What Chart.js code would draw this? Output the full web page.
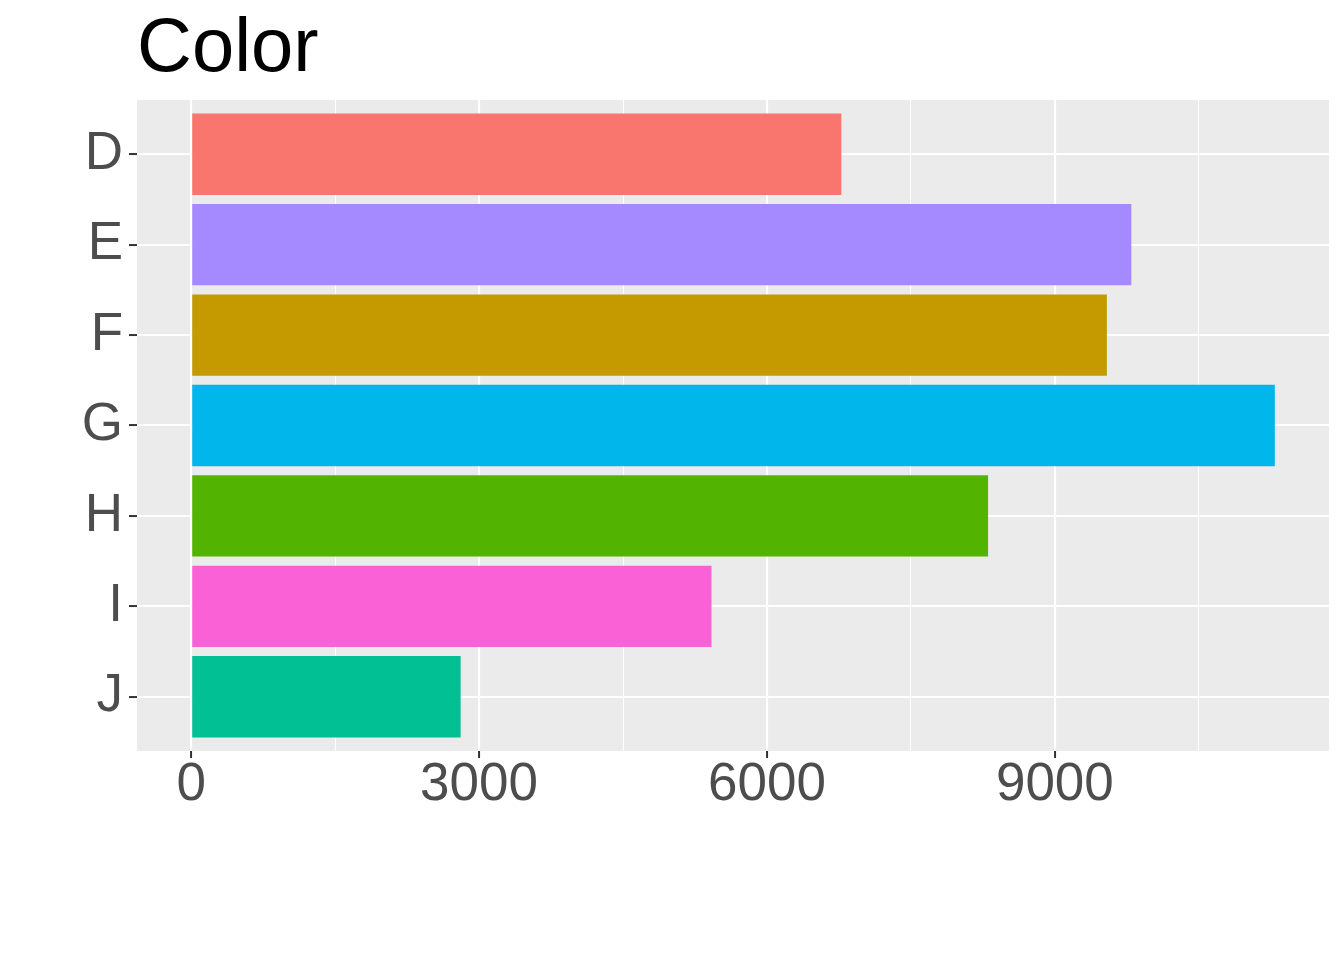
<!DOCTYPE html>
<html>
<head>
<meta charset="utf-8">
<script src="https://cdn.jsdelivr.net/npm/chart.js@4/dist/chart.umd.min.js"></script>
<style>
  body { margin: 0; background: #fff; }
  #wrap { width: 1344px; height: 960px; }
</style>
</head>
<body>
<div id="wrap"><canvas id="chart" width="1344" height="960"></canvas></div>
<script>
// diamonds: count per color
const categories = ["D", "E", "F", "G", "H", "I", "J"];
const counts = [6775, 9797, 9542, 11292, 8304, 5422, 2808];
const barColors = ["#F8766D", "#A58AFF", "#C49A00", "#00B6EB", "#53B400", "#FB61D7", "#00C094"];
const xTicks = [0, 1500, 3000, 4500, 6000, 7500, 9000, 10500];
const xLabelStep = 3000;

const FONT = "'Liberation Sans', Arial, sans-serif";

// ggplot-like expansion (5% on continuous, 0.6 on discrete)
const xMax = Math.max(...counts);
const xPad = xMax * 0.05;

const panelBg = {
  id: "panelBg",
  beforeDraw(chart) {
    const a = chart.chartArea;
    const ctx = chart.ctx;
    ctx.save();
    ctx.fillStyle = "#EBEBEB";
    ctx.fillRect(a.left, a.top, a.right - a.left, a.bottom - a.top);
    ctx.restore();
  },
  afterDraw(chart) {
    // заголовок слева, по краю панели
    const ctx = chart.ctx;
    ctx.save();
    ctx.fillStyle = "#000";
    ctx.font = "76px " + FONT;
    ctx.textBaseline = "alphabetic";
    ctx.textAlign = "left";
    ctx.fillText("Color", chart.chartArea.left, 71);
    ctx.restore();
  },
};

let chart;

function initializeChart() {
  const ctx = document.getElementById("chart").getContext("2d");
  chart = new Chart(ctx, {
    type: "bar",
    data: {
      datasets: [
        {
          data: counts.map((v, i) => ({ x: v, y: i + 1 })),
          backgroundColor: barColors,
          borderWidth: 0,
          barPercentage: 0.9,
          categoryPercentage: 1,
        },
      ],
    },
    plugins: [panelBg],
    options: {
      indexAxis: "y",
      responsive: false,
      animation: false,
      layout: { padding: { top: 100, right: 15, left: 0, bottom: 0 } },
      plugins: {
        legend: { display: false },
        tooltip: { enabled: false },
        title: { display: false },
      },
      scales: {
        x: {
          type: "linear",
          min: -xPad,
          max: xMax + xPad,
          afterBuildTicks: (scale) => {
            scale.ticks = xTicks.map((v) => ({ value: v }));
          },
          afterFit: (scale) => {
            scale.height = 209;
          },
          border: { display: false },
          grid: {
            color: "#FFFFFF",
            lineWidth: (c) => (c.tick && c.tick.value % xLabelStep === 0 ? 2.1 : 1),
            tickColor: (c) => (c.tick && c.tick.value % xLabelStep === 0 ? "#333333" : "rgba(0,0,0,0)"),
            tickWidth: 2,
            tickLength: 7,
          },
          ticks: {
            autoSkip: false,
            maxRotation: 0,
            padding: 1,
            color: "#4D4D4D",
            font: { size: 53, family: FONT, lineHeight: 1 },
            callback: (v) => (v % xLabelStep === 0 ? String(v) : ""),
          },
        },
        y: {
          type: "linear",
          reverse: true,
          offset: false,
          min: 0.4,
          max: categories.length + 0.6,
          afterBuildTicks: (scale) => {
            scale.ticks = categories.map((c, i) => ({ value: i + 1 }));
          },
          afterFit: (scale) => {
            scale.width = 137;
          },
          border: { display: false },
          grid: {
            offset: false,
            color: "#FFFFFF",
            lineWidth: 2.1,
            tickColor: "#333333",
            tickWidth: 2,
            tickLength: 8,
          },
          ticks: {
            autoSkip: false,
            padding: 6,
            color: "#4D4D4D",
            font: { size: 53, family: FONT, lineHeight: 1 },
            callback: (v) => categories[v - 1] || "",
          },
        },
      },
    },
  });
}

initializeChart();
</script>
</body>
</html>
